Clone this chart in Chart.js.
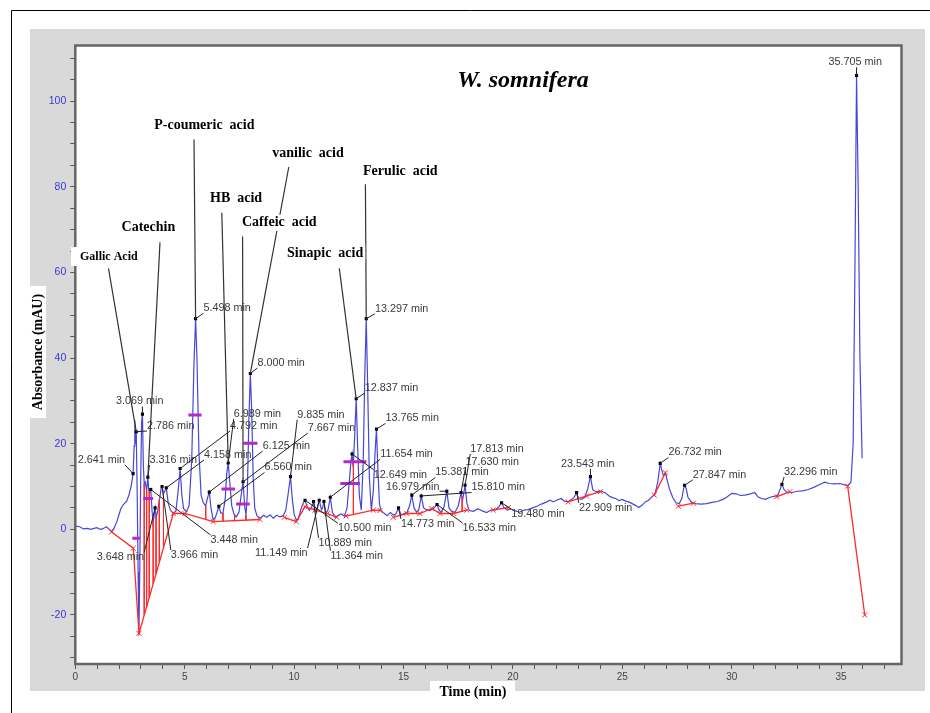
<!DOCTYPE html>
<html>
<head>
<meta charset="utf-8">
<script src="https://cdn.jsdelivr.net/npm/chart.js@4.4.0/dist/chart.umd.min.js"></script>
<style>
  html, body { margin: 0; padding: 0; background: #fff; }
  #wrap { width: 930px; height: 713px; position: relative; }
</style>
</head>
<body>
<div id="wrap"><canvas id="hplc"></canvas></div>
<script>
// chromatogram trace (time in min, absorbance in mAU)
const traceTimes = [0, 0.2, 0.37, 0.55, 0.7, 0.98, 1.1, 1.2, 1.32, 1.43, 1.55, 1.66, 1.78, 1.9, 1.97, 2.08, 2.2, 2.35, 2.45, 2.55,
  2.641, 2.69, 2.72, 2.75, 2.786, 2.83, 2.87, 2.91, 2.95, 2.99, 3.03, 3.069, 3.11, 3.15, 3.2, 3.26, 3.316, 3.36, 3.41, 3.448,
  3.5, 3.55, 3.6, 3.648, 3.7, 3.76, 3.85, 3.92, 3.966, 4.03, 4.1, 4.158, 4.25, 4.35, 4.48, 4.6, 4.7, 4.792, 4.87, 4.95,
  5.08, 5.2, 5.32, 5.42, 5.498, 5.56, 5.65, 5.75, 5.85, 5.96, 6.05, 6.125, 6.2, 6.3, 6.4, 6.48, 6.56, 6.65, 6.75, 6.85,
  6.92, 6.989, 7.06, 7.15, 7.25, 7.35, 7.48, 7.58, 7.667, 7.74, 7.8, 7.86, 7.93, 8.0, 8.06, 8.13, 8.2, 8.3, 8.45, 8.6,
  8.75, 8.9, 9.05, 9.2, 9.35, 9.5, 9.62, 9.72, 9.835, 9.92, 10.0, 10.1, 10.2, 10.3, 10.4, 10.5, 10.6, 10.7, 10.8, 10.889,
  10.98, 11.06, 11.149, 11.25, 11.3, 11.364, 11.45, 11.55, 11.654, 11.75, 11.88, 12.0, 12.15, 12.3, 12.42, 12.52, 12.6, 12.649, 12.7, 12.77,
  12.837, 12.9, 12.98, 13.07, 13.16, 13.23, 13.297, 13.36, 13.44, 13.53, 13.62, 13.7, 13.765, 13.83, 13.9, 13.96, 14.1, 14.25, 14.4, 14.55,
  14.65, 14.773, 14.88, 15.0, 15.15, 15.28, 15.381, 15.48, 15.6, 15.7, 15.81, 15.92, 16.05, 16.2, 16.35, 16.45, 16.533, 16.62, 16.72, 16.85,
  16.979, 17.08, 17.2, 17.35, 17.5, 17.63, 17.7, 17.813, 17.9, 18.0, 18.2, 18.4, 18.6, 18.8, 19.0, 19.2, 19.35, 19.48, 19.6, 19.75,
  19.9, 20.1, 20.3, 20.5, 20.7, 20.9, 21.1, 21.3, 21.5, 21.7, 21.85, 22.0, 22.2, 22.35, 22.5, 22.7, 22.8, 22.909, 23.0, 23.15,
  23.3, 23.42, 23.543, 23.65, 23.8, 24.0, 24.2, 24.4, 24.55, 24.7, 24.85, 25.0, 25.15, 25.3, 25.45, 25.6, 25.75, 25.9, 26.05, 26.2,
  26.35, 26.5, 26.62, 26.732, 26.8, 26.88, 26.97, 27.05, 27.15, 27.3, 27.45, 27.6, 27.72, 27.8, 27.847, 27.92, 28.0, 28.15, 28.35, 28.6,
  28.85, 29.1, 29.35, 29.6, 29.8, 30.0, 30.2, 30.4, 30.6, 30.85, 31.05, 31.2, 31.35, 31.55, 31.75, 31.95, 32.1, 32.2, 32.296, 32.4,
  32.55, 32.75, 33.0, 33.25, 33.5, 33.75, 34.0, 34.25, 34.45, 34.7, 34.95, 35.15, 35.3, 35.45, 35.55, 35.63, 35.705, 35.78, 35.86, 35.96];
const traceAbs = [0.8, 0.6, 0.1, 0.2, 0.0, 0.4, 0.1, 0.0, 0.3, 0.6, 0.0, -0.5, 0.4, 1.8, 3.0, 4.8, 5.8, 6.6, 8.0, 10.0,
  13.0, 19.5, 25.5, 20, 22.8, 8, -10, -24.3, -8, 12, 25, 26.9, 15, 10.5, 11, 9, 12.2, 9, 8.8, 9.3,
  5, 1.5, 3, 5.0, 2.8, 4.2, 7, 9.5, 10.0, 8.4, 9, 9.7, 6, 4.5, 3.7, 4.3, 9, 14.2, 8, 4.8,
  4.1, 5.5, 16, 38, 49.2, 40, 18, 8, 6.2, 5.5, 7.5, 8.7, 5, 2.2, 2.8, 4, 5.4, 3.8, 3.8, 7,
  13, 15.5, 11, 5.5, 3.6, 2.9, 4, 8, 11.1, 5.5, 3.3, 8, 25, 36.4, 28, 12, 5, 3.2, 2.6, 3.3,
  2.8, 3.4, 2.6, 3.3, 2.9, 3.1, 4.5, 8, 12.3, 7, 3.5, 2.2, 2.5, 4.5, 6.0, 6.8, 5.2, 4.4, 5.2, 6.5,
  4.2, 5.0, 6.8, 4.6, 5.0, 6.5, 3.8, 4.5, 7.5, 4.0, 2.8, 3.2, 3.6, 3.1, 5, 11, 16, 17.6, 14.5, 22,
  30.5, 20, 8, 4.5, 16, 36, 49.2, 34, 12, 4.5, 9, 18, 23.4, 14, 6, 4.5, 3.8, 3.2, 3.9, 3.3,
  3.6, 5.0, 3.4, 3.6, 3.9, 5.5, 8.0, 5, 4.0, 4.6, 7.8, 5, 4.6, 4.4, 4.8, 5.3, 5.8, 4.6, 3.9, 5.2,
  8.9, 5, 4.2, 4.0, 5.4, 8.6, 6.8, 10.3, 6, 4.4, 4.2, 4.8, 4.3, 3.9, 4.5, 4.6, 5.2, 6.2, 5.0, 4.5,
  4.8, 4.3, 4.0, 4.5, 4.6, 5.0, 5.4, 5.9, 6.3, 6.8, 6.4, 6.8, 7.2, 6.6, 6.4, 7.0, 7.5, 8.6, 7.2, 7.0,
  7.6, 9.5, 12.3, 9.2, 8.8, 8.9, 8.6, 7.8, 7.4, 7.2, 6.7, 7.0, 6.6, 6.4, 6.0, 5.6, 5.1, 5.6, 6.4, 6.8,
  7.6, 8.4, 11, 15.4, 14, 12.5, 13.2, 11.5, 9.5, 7.5, 6.2, 6.0, 7.2, 9.5, 10.3, 9.5, 7.5, 6.4, 6.0, 5.9,
  6.0, 6.3, 6.5, 7.0, 7.6, 8.4, 8.3, 7.9, 8.0, 8.3, 8.6, 7.6, 7.2, 7.0, 7.5, 7.7, 8.0, 9.2, 10.5, 9.2,
  8.6, 8.6, 8.9, 9.0, 9.3, 9.8, 10.4, 11.0, 10.7, 10.6, 10.7, 10.4, 10.2, 11.0, 20, 60, 106, 80, 40, 16.6];

// integrated peaks: retention time (label) and apex height
const peakTimes = [2.641, 2.786, 3.069, 3.316, 3.448, 3.648, 3.966, 4.158, 4.792, 5.498, 6.125, 6.560, 6.989, 7.667, 8.000,
  9.835, 10.500, 10.889, 11.149, 11.364, 11.654, 12.649, 12.837, 13.297, 13.765, 14.773, 15.381, 15.810, 16.533, 16.979,
  17.630, 17.813, 19.480, 22.909, 23.543, 26.732, 27.847, 32.296, 35.705];
const peakHeights = [13.0, 22.8, 26.9, 12.2, 9.3, 5.0, 10.0, 9.7, 14.2, 49.2, 8.7, 5.4, 15.5, 11.1, 36.4,
  12.3, 6.8, 6.5, 6.8, 6.5, 7.5, 17.6, 30.5, 49.2, 23.4, 5.0, 8.0, 7.8, 5.8, 8.9,
  8.6, 10.3, 6.2, 8.6, 12.3, 15.4, 10.3, 10.5, 106];

// integration baselines (null = break between runs)
const baseTimes = [1.66, 2.65, 2.91, 4.48, 5.01, 6.3, 8.44, null,
  9.55, 10.1, 10.5, 10.95, 11.52, 11.95, null,
  12.37, 13.62, 13.93, null,
  14.53, 15.15, 15.75, 16.29, 16.67, 17.28, 17.89, null,
  19.1, 19.79, null,
  22.53, 23.37, 24.0, null,
  26.46, 26.97, null,
  27.56, 28.25, null,
  32.05, 32.66, null,
  35.3, 36.08];
const baseAbs = [-0.6, -4.4, -24.3, 3.7, 3.7, 1.8, 2.3, null,
  2.8, 1.8, 5.3, 4.5, 3.7, 2.8, null,
  3.1, 4.5, 4.4, null,
  2.8, 3.7, 3.7, 4.9, 3.7, 3.7, 4.5, null,
  4.5, 5.1, null,
  6.4, 7.8, 8.8, null,
  8.0, 13.2, null,
  5.4, 6.1, null,
  7.6, 8.8, null,
  10.1, -20];

// peak separation drop lines
const dropTimes = [3.15, 3.26, 3.38, 3.56, 3.69, 3.84, 4.03, 5.96, 6.75, 7.28, 7.8, 12.71, 17.68];
const dropTops = [10.5, 9.0, 8.9, 2.0, 3.2, 7.0, 8.4, 5.5, 3.8, 3.3, 3.3, 16.0, 7.5];
const dropBottoms = [-20.0, -18.1, -15.9, -12.7, -10.4, -7.7, -4.3, 2.3, 1.9, 2.0, 2.15, 3.5, 4.2];

// half-height width markers
const halfTimes = [2.78, 3.33, 5.47, 6.99, 7.66, 8.0, 12.78, 12.56];
const halfAbs = [-2.1, 7.2, 26.7, 9.4, 5.9, 20.1, 15.8, 10.7];
const halfWidths = [0.35, 0.45, 0.6, 0.62, 0.62, 0.65, 1.05, 0.9];

// compound assignments (name, peak it points to)
const compoundNames = ['P-coumeric  acid', 'vanilic  acid', 'Ferulic  acid', 'HB  acid', 'Caffeic  acid', 'Catechin', 'Sinapic  acid', 'Gallic Acid'];
const compoundPeaks = [5.498, 8.000, 13.297, 6.989, 7.667, 3.316, 12.837, 2.786];

const xTickVals = [];
for (let v = 0; v <= 37; v++) xTickVals.push(v);
const yTickVals = [];
for (let v = -30; v <= 110; v += 5) yTickVals.push(v);

// layout: label positions in px (left, middle)
const peakLabelPos = [[77.7, 460], [147, 426], [116, 401.5], [149.5, 460], [210.6, 540], [96.7, 557.5], [170.8, 555], [204, 455],
  [230, 426], [203.4, 308.3], [262.7, 446], [264.5, 467.5], [233.7, 413.8], [307.8, 428], [257.4, 363], [297.2, 414.7],
  [338, 528.4], [318.5, 543], [255, 553], [330.4, 555.7], [380.2, 454.3], [373.7, 474.8], [364.8, 388], [374.9, 308.8],
  [385.5, 418.4], [401, 524], [435.3, 472.5], [471.5, 487.5], [462.6, 528], [386.1, 487], [465.6, 462], [470.3, 448.8],
  [511.3, 514], [578.9, 508], [561.1, 463.8], [668.4, 452.5], [692.8, 474.8], [784.1, 472], [828.6, 62.3]];
// text left, text middle, leader start x, leader start y
const compoundLabelPos = [[154.2, 125.5, 194, 139.6], [272.2, 153.7, 288.8, 167], [363, 171, 365.4, 184.2], [210, 198.7, 221.8, 212.8],
  [242, 222.8, 242.6, 236.5], [121.6, 227, 160, 242.4], [287, 253.3, 339.3, 268.3], [80, 256.5, 108.5, 268.3]];

const pts = (xs, ys) => xs.map((t, i) => ({ x: t === null ? 0 : t, y: ys[i] }));

const halfData = [];
halfTimes.forEach((t, i) => {
  halfData.push({ x: t - halfWidths[i] / 2, y: halfAbs[i] }, { x: t + halfWidths[i] / 2, y: halfAbs[i] }, { x: t, y: null });
});
const dropData = [];
dropTimes.forEach((t, i) => {
  dropData.push({ x: t, y: dropTops[i] }, { x: t, y: dropBottoms[i] }, { x: t, y: null });
});

const SANS = '"Liberation Sans", Arial, sans-serif';
const SERIF = '"Liberation Serif", "Times New Roman", serif';

const decor = {
  id: 'decor',
  beforeDraw(chart) {
    const { ctx, chartArea: a } = chart;
    ctx.save();
    ctx.fillStyle = '#fff';
    ctx.fillRect(0, 0, chart.width, chart.height);
    ctx.fillStyle = '#d9d9d9';
    ctx.fillRect(30, 29, 895, 662);
    ctx.fillStyle = '#fff';
    ctx.fillRect(a.left, a.top, a.right - a.left, a.bottom - a.top);
    ctx.strokeStyle = '#000';
    ctx.lineWidth = 1;
    ctx.beginPath();
    ctx.moveTo(11.5, 713); ctx.lineTo(11.5, 10.5); ctx.lineTo(930, 10.5);
    ctx.stroke();
    ctx.restore();
  },
  afterDraw(chart) {
    const { ctx, chartArea: a, scales: { x, y } } = chart;
    ctx.save();
    // plot frame
    ctx.strokeStyle = '#666';
    ctx.lineWidth = 2.5;
    ctx.strokeRect(a.left, a.top, a.right - a.left, a.bottom - a.top);

    // title
    ctx.fillStyle = '#000';
    ctx.font = 'italic bold 24px ' + SERIF;
    ctx.textAlign = 'center';
    ctx.textBaseline = 'middle';
    ctx.fillText('W. somnifera', 523, 81);

    // axis titles
    ctx.fillStyle = '#fff';
    ctx.fillRect(30, 286, 16, 132);
    ctx.fillRect(430, 681, 85, 19);
    ctx.fillStyle = '#000';
    ctx.font = 'bold 14px ' + SERIF;
    ctx.fillText('Time (min)', 473, 692);
    ctx.save();
    ctx.translate(38, 352);
    ctx.rotate(-Math.PI / 2);
    ctx.fillText('Absorbance (mAU)', 0, 0);
    ctx.restore();

    // peak retention time labels
    ctx.font = '10.8px ' + SANS;
    ctx.textAlign = 'left';
    ctx.strokeStyle = '#222';
    ctx.lineWidth = 1;
    peakTimes.forEach((t, i) => {
      const dx = x.getPixelForValue(t), dy = y.getPixelForValue(peakHeights[i]);
      const [lx, ly] = peakLabelPos[i];
      const txt = t.toFixed(3) + ' min';
      const w = ctx.measureText(txt).width;
      const px = Math.min(Math.max(dx, lx), lx + w);
      const py = Math.min(Math.max(dy, ly - 5), ly + 5);
      if (Math.hypot(px - dx, py - dy) > 3) {
        ctx.beginPath(); ctx.moveTo(px, py); ctx.lineTo(dx, dy); ctx.stroke();
      }
      ctx.fillStyle = '#3a3a3a';
      ctx.fillText(txt, lx, ly);
    });

    // compound names with leaders
    ctx.strokeStyle = '#333';
    ctx.lineWidth = 1.2;
    compoundNames.forEach((name, i) => {
      const k = peakTimes.indexOf(compoundPeaks[i]);
      const dx = x.getPixelForValue(peakTimes[k]), dy = y.getPixelForValue(peakHeights[k]);
      const [, , sx, sy] = compoundLabelPos[i];
      ctx.beginPath(); ctx.moveTo(sx, sy); ctx.lineTo(dx, dy); ctx.stroke();
    });
    compoundNames.forEach((name, i) => {
      const [lx, ly] = compoundLabelPos[i];
      ctx.font = (name === 'Gallic Acid' ? 'bold 12px ' : 'bold 14px ') + SERIF;
      const w = ctx.measureText(name).width;
      ctx.fillStyle = '#fff';
      if (name === 'Gallic Acid') ctx.fillRect(71, ly - 9.5, lx - 71 + w + 3, 19);
      else ctx.fillRect(lx - 2, ly - 8, w + 4, 16);
      ctx.fillStyle = '#000';
      ctx.fillText(name, lx, ly);
    });
    ctx.restore();
  }
};

new Chart(document.getElementById('hplc'), {
  type: 'line',
  data: {
    datasets: [
      {
        label: 'apex',
        data: pts(peakTimes, peakHeights),
        showLine: false,
        pointStyle: 'rect',
        pointRadius: 2.2,
        backgroundColor: '#000',
        borderColor: '#000',
        borderWidth: 0
      },
      {
        label: 'half width',
        data: halfData,
        borderColor: '#b42ac8',
        borderWidth: 3,
        pointRadius: 0,
        spanGaps: false
      },
      {
        label: 'drops',
        data: dropData,
        borderColor: '#ff2a2a',
        borderWidth: 1,
        pointRadius: 0,
        spanGaps: false
      },
      {
        label: 'baseline',
        data: pts(baseTimes, baseAbs),
        borderColor: '#ff2a2a',
        borderWidth: 1.3,
        pointStyle: 'crossRot',
        pointRadius: (c) => (c.raw.y === null ? 0 : 3.5),
        pointBorderColor: '#ff2a2a',
        pointBorderWidth: 1,
        spanGaps: false
      },
      {
        label: 'signal',
        data: pts(traceTimes, traceAbs),
        borderColor: '#4646d8',
        borderWidth: 1.2,
        pointRadius: 0,
        tension: 0
      }
    ]
  },
  options: {
    responsive: true,
    maintainAspectRatio: false,
    devicePixelRatio: 1,
    animation: false,
    layout: { padding: { top: 45.5, right: 28.5, left: 0, bottom: 0 } },
    plugins: { legend: { display: false }, tooltip: { enabled: false } },
    scales: {
      x: {
        type: 'linear',
        min: 0,
        max: 37.76,
        afterBuildTicks: (s) => { s.ticks = xTickVals.map(v => ({ value: v })); },
        afterFit: (s) => { s.height = 49; },
        border: { display: false },
        grid: { drawOnChartArea: false, drawTicks: true, tickLength: 5, color: '#555' },
        ticks: {
          autoSkip: false, maxRotation: 0, padding: 2, color: '#444',
          font: { family: SANS, size: 10 },
          callback: (v) => (v % 5 === 0 ? String(v) : '')
        }
      },
      y: {
        type: 'linear',
        min: -31.45,
        max: 113,
        afterBuildTicks: (s) => { s.ticks = yTickVals.map(v => ({ value: v })); },
        afterFit: (s) => { s.width = 75.3; },
        border: { display: false },
        grid: { drawOnChartArea: false, drawTicks: true, tickLength: 5, color: '#555' },
        ticks: {
          autoSkip: false, padding: 4, color: '#3838d0',
          font: { family: SANS, size: 10.5 },
          callback: (v) => (v % 20 === 0 ? String(v) : '')
        }
      }
    }
  },
  plugins: [decor]
});
</script>
</body>
</html>
